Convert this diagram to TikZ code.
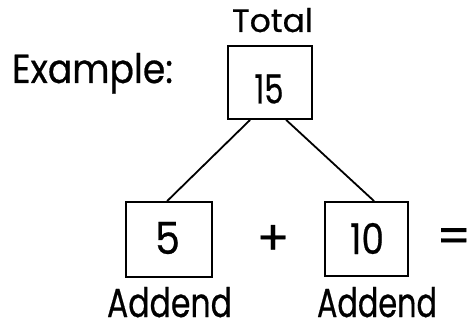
\documentclass[tikz,border=0pt]{standalone}
\usepackage{fontspec}
\setmainfont{Poppins}[FakeBold=0.6]
\usepackage{graphicx}
\begin{document}
\begin{tikzpicture}[x=1pt,y=-1pt,
  box/.style={draw=black,line width=1.8pt,inner sep=0pt,minimum width=#1},
  txt/.style={inner sep=0pt,outer sep=0pt,font=\fontsize{40pt}{40pt}\selectfont},
  sym/.style={inner sep=0pt,outer sep=0pt,font=\fontsize{48pt}{48pt}\selectfont},
  conn/.style={draw=black,line width=1.8pt}]
\useasboundingbox (0,0) rectangle (471,329);
\node[txt,anchor=base west] (example) at (12,83) {\resizebox{161pt}{30pt}{Example:}};
\node[txt,anchor=base west] (total) at (232,32) {\resizebox{81pt}{24pt}{Total}};
\node[box=84pt,minimum height=73pt] (top) at (270,82.5) {};
\node[txt] (n15) at (269,89) {\resizebox{29pt}{29pt}{15}};
\node[box=86pt,minimum height=75pt] (left) at (169,239.5) {};
\node[txt] (n5) at (167.5,238) {\resizebox{25pt}{32pt}{5}};
\node[box=83pt,minimum height=74pt] (right) at (366.5,239) {};
\node[txt] (n10) at (367,238.5) {\resizebox{34pt}{31pt}{10}};
\node[sym] (plus) at (273,240) {+};
\node[sym,anchor=east] (eq) at (471,240.5) {=};
\node[txt,anchor=base west] (add1) at (107,317) {\resizebox{125pt}{30pt}{Addend}};
\node[txt,anchor=base west] (add2) at (317,317) {\resizebox{120pt}{30pt}{Addend}};
\draw[conn] ([xshift=23pt]top.south west) -- ([xshift=42pt]left.north west);
\draw[conn] ([xshift=59pt]top.south west) -- ([xshift=50pt]right.north west);
\end{tikzpicture}
\end{document}
